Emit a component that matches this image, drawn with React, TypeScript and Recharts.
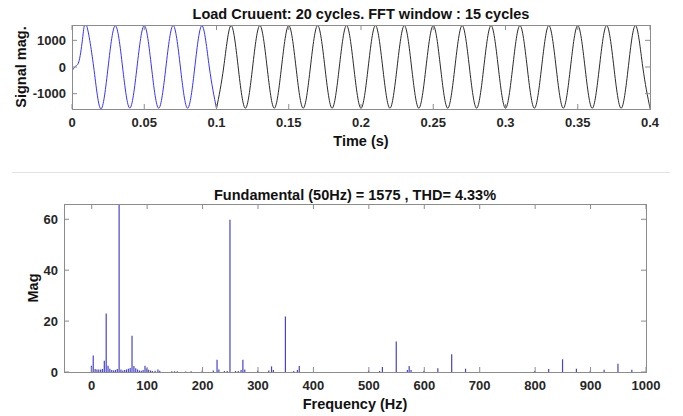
import { LineChart, Line, BarChart, Bar, XAxis, YAxis } from 'recharts'

const FONT = '"Liberation Sans", Arial, Helvetica, sans-serif'
const AXIS_GRAY = '#8c8c8c'
const TICK_TEXT = '#262626'

// top panel: load current waveform (peaks / zero crossings)
const timeS = [
  0, 0.0025, 0.005, 0.0075,
  0.01, 0.015, 0.02, 0.025,
  0.03, 0.035, 0.04, 0.045,
  0.05, 0.055, 0.06, 0.065,
  0.07, 0.075, 0.08, 0.085,
  0.09, 0.095, 0.1, 0.105,
  0.11, 0.115, 0.12, 0.125,
  0.13, 0.135, 0.14, 0.145,
  0.15, 0.155, 0.16, 0.165,
  0.17, 0.175, 0.18, 0.185,
  0.19, 0.195, 0.2, 0.205,
  0.21, 0.215, 0.22, 0.225,
  0.23, 0.235, 0.24, 0.245,
  0.25, 0.255, 0.26, 0.265,
  0.27, 0.275, 0.28, 0.285,
  0.29, 0.295, 0.3, 0.305,
  0.31, 0.315, 0.32, 0.325,
  0.33, 0.335, 0.34, 0.345,
  0.35, 0.355, 0.36, 0.365,
  0.37, 0.375, 0.38, 0.385,
  0.39, 0.395, 0.4
]
const signalMag = [
  -150, 30, 250, 1150,
  1575, 0, -1575, 0,
  1550, 0, -1540, 0,
  1555, 0, -1545, 0,
  1555, 0, -1545, 0,
  1550, 0, -1560, 0,
  1555, 0, -1545, 0,
  1555, 0, -1545, 0,
  1555, 0, -1545, 0,
  1555, 0, -1545, 0,
  1555, 0, -1545, 0,
  1555, 0, -1545, 0,
  1555, 0, -1545, 0,
  1555, 0, -1545, 0,
  1555, 0, -1545, 0,
  1555, 0, -1545, 0,
  1555, 0, -1545, 0,
  1555, 0, -1545, 0,
  1555, 0, -1545, 0,
  1555, 0, -1545, 0,
  1555, 0, -1545
]
const fftWindowStart = 0.1
const timeTicks = [0, 0.05, 0.1, 0.15, 0.2, 0.25, 0.3, 0.35, 0.4]
const signalTicks = [-1000, 0, 1000]

// bottom panel: FFT spectrum (3.33 Hz bins)
const freqHz = [
  0, 3.3, 6.7, 10, 13.3, 16.7, 20, 23.3, 26.7, 30,
  33.3, 36.7, 40, 43.3, 46.7, 50, 53.3, 56.7, 60, 63.3,
  66.7, 70, 73.3, 76.7, 80, 83.3, 86.7, 90, 93.3, 96.7,
  100, 103.3, 106.7, 110, 115, 120, 123.3, 145, 150, 155,
  170, 180, 200, 220, 226.7, 230, 240, 245, 250, 260,
  265, 270, 273.3, 276.7, 300, 320, 325, 328.3, 350, 365,
  371.7, 375, 500, 520, 525, 550, 570, 573.3, 576.7, 600,
  625, 650, 675, 800, 825, 850, 875, 900, 925, 950,
  975
]
const fftMag = [
  2.5, 6.5, 1.2, 1, 1, 1, 1.2, 4.4, 23, 2.5,
  1.3, 0.8, 0.6, 0.8, 1.2, 1575, 1, 0.6, 0.8, 1,
  1.3, 1.6, 14.2, 2.4, 1.5, 1, 0.6, 0.5, 0.8, 2.5,
  1.5, 0.9, 0.6, 0.4, 0.5, 1, 0.5, 0.3, 0.3, 0.3,
  0.2, 0.3, 0.6, 0.6, 4.8, 1, 0.4, 0.4, 59.8, 0.4,
  0.4, 0.8, 4.8, 1, 0.5, 0.6, 2.2, 0.8, 21.8, 0.4,
  0.8, 2.4, 0.5, 0.4, 2, 12, 0.8, 2.4, 0.8, 0.5,
  1.5, 7, 1.3, 0.4, 1.2, 5, 1.3, 0.5, 0.9, 3.2,
  0.9
]
const freqTicks = [0, 100, 200, 300, 400, 500, 600, 700, 800, 900, 1000]
const magTicks = [0, 20, 40, 60]

const waveData = timeS.map((t, i) => ({
  t,
  before: t <= fftWindowStart ? signalMag[i] : null,
  after: t >= fftWindowStart ? signalMag[i] : null
}))
const spectrumData = freqHz.map((f, i) => ({ f, mag: fftMag[i] }))

const tickText = { fontFamily: FONT, fontSize: 13, fontWeight: 700, fill: TICK_TEXT }

const BottomTick = (p: any) => (
  <g>
    <line x1={p.x} y1={p.y} x2={p.x} y2={p.y - 5} stroke={AXIS_GRAY} />
    <text x={p.x} y={p.y + 18} textAnchor="middle" {...tickText}>{String(p.payload.value)}</text>
  </g>
)
const LeftTick = (p: any) => (
  <g>
    <line x1={p.x} y1={p.y} x2={p.x + 5} y2={p.y} stroke={AXIS_GRAY} />
    <text x={p.x - 6} y={p.y + 4.5} textAnchor="end" {...tickText}>{String(p.payload.value)}</text>
  </g>
)
const TopTick = (p: any) => <line x1={p.x} y1={p.y} x2={p.x} y2={p.y + 5} stroke={AXIS_GRAY} />
const RightTick = (p: any) => <line x1={p.x} y1={p.y} x2={p.x - 5} y2={p.y} stroke={AXIS_GRAY} />

const labelStyle: React.CSSProperties = {
  position: 'absolute',
  fontFamily: FONT,
  fontWeight: 700,
  fontSize: 14.5,
  color: '#111',
  whiteSpace: 'nowrap',
  transform: 'translate(-50%, -50%)'
}

const boxStyle: React.CSSProperties = {
  position: 'absolute',
  boxSizing: 'border-box',
  border: `1px solid ${AXIS_GRAY}`,
  pointerEvents: 'none'
}

export default function App() {
  return (
    <div style={{ position: 'absolute', left: 0, top: 0, width: 683, height: 416, background: '#fff', overflow: 'hidden' }}>
      <div style={{ position: 'absolute', left: 0, top: 0 }}>
        <LineChart width={683} height={150} data={waveData} margin={{ top: 24, right: 32, bottom: 0, left: 0 }}>
          <XAxis dataKey="t" type="number" domain={[0, 0.4]} ticks={timeTicks} interval={0} allowDataOverflow
            height={41} tickSize={0} tickMargin={0} tickLine={false} axisLine={false} tick={BottomTick} />
          <XAxis xAxisId="top" orientation="top" dataKey="t" type="number" domain={[0, 0.4]} ticks={timeTicks}
            interval={0} allowDataOverflow height={1} tickSize={0} tickMargin={0} tickLine={false} axisLine={false} tick={TopTick} />
          <YAxis type="number" domain={[-1575, 1575]} ticks={signalTicks} interval={0} allowDataOverflow width={72}
            tickSize={0} tickMargin={0} tickLine={false} axisLine={false} tick={LeftTick} />
          <YAxis yAxisId="right" orientation="right" type="number" domain={[-1575, 1575]} ticks={signalTicks} interval={0}
            allowDataOverflow width={1} tickSize={0} tickMargin={0} tickLine={false} axisLine={false} tick={RightTick} />
          <Line type="natural" dataKey="before" stroke="#3535ff" strokeWidth={1} dot={false} isAnimationActive={false} />
          <Line type="natural" dataKey="after" stroke="#2b2b2b" strokeWidth={1} dot={false} isAnimationActive={false} />
        </LineChart>
      </div>
      <div style={{ ...boxStyle, left: 72, top: 25, width: 579, height: 85 }} />
      <div style={{ ...labelStyle, left: 361, top: 14 }}>Load Cruuent: 20 cycles. FFT window : 15 cycles</div>
      <div style={{ ...labelStyle, left: 361, top: 141 }}>Time (s)</div>
      <div style={{ ...labelStyle, left: 21, top: 67, transform: 'translate(-50%, -50%) rotate(-90deg)' }}>Signal mag.</div>

      <div style={{ position: 'absolute', left: 12, top: 172, width: 658, height: 1, background: '#e2e2e2' }} />

      <div style={{ position: 'absolute', left: 0, top: 180 }}>
        <BarChart width={683} height={236} data={spectrumData} margin={{ top: 23, right: 36, bottom: 0, left: 0 }}>
          <XAxis dataKey="f" type="number" domain={[-50, 1000]} ticks={freqTicks} interval={0} allowDataOverflow
            height={44} tickSize={0} tickMargin={0} tickLine={false} axisLine={false} tick={BottomTick} />
          <XAxis xAxisId="top" orientation="top" dataKey="f" type="number" domain={[-50, 1000]} ticks={freqTicks}
            interval={0} allowDataOverflow height={1} tickSize={0} tickMargin={0} tickLine={false} axisLine={false} tick={TopTick} />
          <YAxis type="number" domain={[0, 66]} ticks={magTicks} interval={0} allowDataOverflow width={64}
            tickSize={0} tickMargin={0} tickLine={false} axisLine={false} tick={LeftTick} />
          <YAxis yAxisId="right" orientation="right" type="number" domain={[0, 66]} ticks={magTicks} interval={0}
            allowDataOverflow width={1} tickSize={0} tickMargin={0} tickLine={false} axisLine={false} tick={RightTick} />
          <Bar dataKey="mag" fill="#4444cc" barSize={1.2} isAnimationActive={false} />
        </BarChart>
      </div>
      <div style={{ ...boxStyle, left: 64, top: 204, width: 583, height: 169 }} />
      <div style={{ ...labelStyle, left: 355, top: 195 }}>Fundamental (50Hz) = 1575 , THD= 4.33%</div>
      <div style={{ ...labelStyle, left: 355, top: 404 }}>Frequency (Hz)</div>
      <div style={{ ...labelStyle, left: 33, top: 288, transform: 'translate(-50%, -50%) rotate(-90deg)' }}>Mag</div>
    </div>
  )
}
